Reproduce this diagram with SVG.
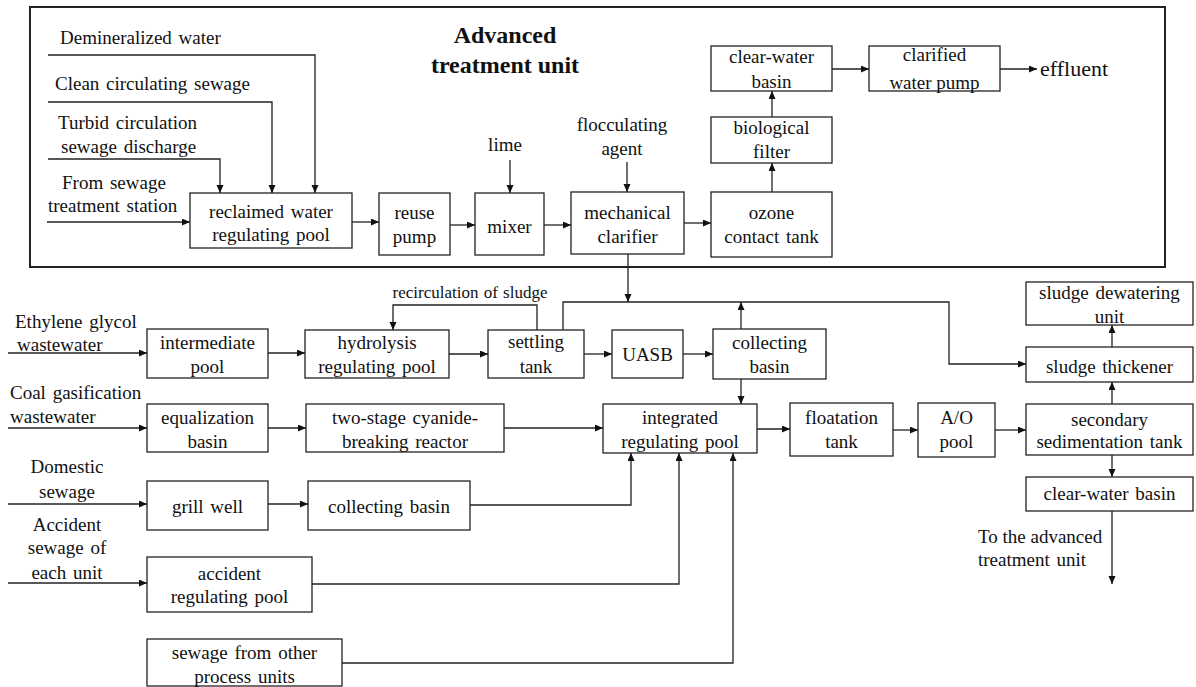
<svg xmlns="http://www.w3.org/2000/svg" width="1196" height="687" viewBox="0 0 1196 687">
<style>
  .bx{fill:#fff;stroke:#222;stroke-width:1.3}
  .t{font-family:'Liberation Serif','DejaVu Serif',serif;font-size:19px;fill:#111;word-spacing:2px}
  .c{text-anchor:middle}
  .ln{fill:none;stroke:#222;stroke-width:1.3}
  .ttl{font-family:'Liberation Serif','DejaVu Serif',serif;font-size:24px;font-weight:bold;fill:#111;text-anchor:middle}
</style>
<defs>
  <marker id="ah" markerUnits="userSpaceOnUse" markerWidth="9" markerHeight="8" refX="8" refY="3.5" orient="auto">
    <path d="M0,0 L8,3.5 L0,7 z" fill="#111"/>
  </marker>
</defs>
<rect width="1196" height="687" fill="#fff"/>
<rect id="frame" x="30" y="7" width="1135" height="260" fill="none" stroke="#222" stroke-width="2"/>
<g id="title"><text class="ttl" x="505" y="43">Advanced</text><text class="ttl" x="505" y="73">treatment unit</text></g>

<g id="labels">
  <text class="t" x="60" y="44">Demineralized water</text>
  <text class="t" x="55" y="90">Clean circulating sewage</text>
  <text class="t" x="58" y="129">Turbid circulation</text>
  <text class="t" x="61" y="153">sewage discharge</text>
  <text class="t" x="62" y="189">From sewage</text>
  <text class="t" x="48" y="212">treatment station</text>
  <text class="t c" x="505" y="151">lime</text>
  <text class="t c" x="622" y="131">flocculating</text>
  <text class="t c" x="622" y="155">agent</text>
  <text class="t" x="1040" y="76" style="font-size:22px">effluent</text>
  <text class="t c" x="470" y="298" style="font-size:17px;word-spacing:1px">recirculation of sludge</text>
  <text class="t" x="15" y="328">Ethylene glycol</text>
  <text class="t" x="17" y="351">wastewater</text>
  <text class="t" x="10" y="399">Coal gasification</text>
  <text class="t" x="10" y="423">wastewater</text>
  <text class="t c" x="67" y="473">Domestic</text>
  <text class="t c" x="67" y="498">sewage</text>
  <text class="t c" x="67" y="531">Accident</text>
  <text class="t c" x="67" y="554">sewage of</text>
  <text class="t c" x="67" y="579">each unit</text>
  <text class="t" x="978" y="543" style="word-spacing:0">To the advanced</text>
  <text class="t" x="978" y="566">treatment unit</text>
</g>

<g id="connectors" class="ln" marker-end="url(#ah)">
  <path d="M48,55 H315 V193"/>
  <path d="M48,102 H272 V193"/>
  <path d="M48,159 H220 V193"/>
  <path d="M47,222 H190"/>
  <path d="M352,222 H379"/>
  <path d="M450,225 H475"/>
  <path d="M510,160 V193"/>
  <path d="M544,225 H571"/>
  <path d="M627,162 V192"/>
  <path d="M684,223 H711"/>
  <path d="M772,192 V163"/>
  <path d="M772,117 V91"/>
  <path d="M832,69 H869"/>
  <path d="M1000,69 H1037"/>
  <path d="M628,254 V302"/>
  <path d="M8,353 H147"/>
  <path d="M268,353 H305"/>
  <path d="M449,354 H488"/>
  <path d="M584,354 H612"/>
  <path d="M683,354 H713"/>
  <path d="M537,330 V305 H393 V330"/>
  <path d="M563,330 V302 H949 V364 H1026"/>
  <path d="M741,329 V302"/>
  <path d="M741,379 V404"/>
  <path d="M8,428 H147"/>
  <path d="M268,428 H306"/>
  <path d="M504,428 H603"/>
  <path d="M757,429 H790"/>
  <path d="M893,430 H918"/>
  <path d="M995,430 H1026"/>
  <path d="M1112,404 V382"/>
  <path d="M1112,347 V325"/>
  <path d="M1112,455 V477"/>
  <path d="M1112,511 V584"/>
  <path d="M8,504 H147"/>
  <path d="M268,504 H308"/>
  <path d="M470,505 H631 V453"/>
  <path d="M8,583 H147"/>
  <path d="M312,584 H679 V453"/>
  <path d="M342,663 H733 V453"/>
</g>

<g id="n-reclaimed"><rect class="bx" x="190" y="193" width="162" height="55"/><text class="t c" x="271" y="218">reclaimed water</text><text class="t c" x="271" y="241">regulating pool</text></g>
<g id="n-reuse"><rect class="bx" x="379" y="193" width="71" height="62"/><text class="t c" x="414.5" y="219">reuse</text><text class="t c" x="414.5" y="243">pump</text></g>
<g id="n-mixer"><rect class="bx" x="475" y="193" width="69" height="62"/><text class="t c" x="509.5" y="233">mixer</text></g>
<g id="n-clarifier"><rect class="bx" x="571" y="192" width="113" height="62"/><text class="t c" x="627.5" y="219">mechanical</text><text class="t c" x="627.5" y="243">clarifier</text></g>
<g id="n-ozone"><rect class="bx" x="711" y="192" width="121" height="65"/><text class="t c" x="771.5" y="219">ozone</text><text class="t c" x="771.5" y="243">contact tank</text></g>
<g id="n-biofilter"><rect class="bx" x="711" y="117" width="121" height="46"/><text class="t c" x="771.5" y="134">biological</text><text class="t c" x="771.5" y="158">filter</text></g>
<g id="n-clearwater1"><rect class="bx" x="711" y="46" width="121" height="45"/><text class="t c" x="771.5" y="63">clear-water</text><text class="t c" x="771.5" y="88">basin</text></g>
<g id="n-clarifiedpump"><rect class="bx" x="869" y="46" width="131" height="45"/><text class="t c" x="934.5" y="61">clarified</text><text class="t c" x="934.5" y="89" style="word-spacing:0">water pump</text></g>

<g id="n-intermediate"><rect class="bx" x="147" y="329" width="121" height="49"/><text class="t c" x="207.5" y="349">intermediate</text><text class="t c" x="207.5" y="373">pool</text></g>
<g id="n-hydrolysis"><rect class="bx" x="305" y="330" width="144" height="48"/><text class="t c" x="377" y="349">hydrolysis</text><text class="t c" x="377" y="373">regulating pool</text></g>
<g id="n-settling"><rect class="bx" x="488" y="330" width="96" height="48"/><text class="t c" x="536" y="348">settling</text><text class="t c" x="536" y="373">tank</text></g>
<g id="n-uasb"><rect class="bx" x="612" y="330" width="71" height="48"/><text class="t c" x="647.5" y="361">UASB</text></g>
<g id="n-collecting1"><rect class="bx" x="713" y="329" width="113" height="50"/><text class="t c" x="769.5" y="349">collecting</text><text class="t c" x="769.5" y="373">basin</text></g>
<g id="n-equalization"><rect class="bx" x="147" y="404" width="121" height="48"/><text class="t c" x="207.5" y="424">equalization</text><text class="t c" x="207.5" y="448">basin</text></g>
<g id="n-twostage"><rect class="bx" x="306" y="404" width="198" height="48"/><text class="t c" x="405" y="424">two-stage cyanide-</text><text class="t c" x="405" y="448">breaking reactor</text></g>
<g id="n-integrated"><rect class="bx" x="603" y="404" width="154" height="49"/><text class="t c" x="680" y="424">integrated</text><text class="t c" x="680" y="448">regulating pool</text></g>
<g id="n-floatation"><rect class="bx" x="790" y="403" width="103" height="53"/><text class="t c" x="841.5" y="424">floatation</text><text class="t c" x="841.5" y="448">tank</text></g>
<g id="n-ao"><rect class="bx" x="918" y="403" width="77" height="54"/><text class="t c" x="956.5" y="424">A/O</text><text class="t c" x="956.5" y="448">pool</text></g>
<g id="n-dewatering"><rect class="bx" x="1026" y="282" width="167" height="43"/><text class="t c" x="1109.5" y="299">sludge dewatering</text><text class="t c" x="1109.5" y="323">unit</text></g>
<g id="n-thickener"><rect class="bx" x="1026" y="347" width="167" height="35"/><text class="t c" x="1109.5" y="373">sludge thickener</text></g>
<g id="n-secondary"><rect class="bx" x="1026" y="404" width="167" height="51"/><text class="t c" x="1109.5" y="426">secondary</text><text class="t c" x="1109.5" y="448">sedimentation tank</text></g>
<g id="n-clearwater2"><rect class="bx" x="1026" y="477" width="167" height="34"/><text class="t c" x="1109.5" y="500">clear-water basin</text></g>
<g id="n-grill"><rect class="bx" x="147" y="481" width="121" height="49"/><text class="t c" x="207.5" y="513">grill well</text></g>
<g id="n-collecting2"><rect class="bx" x="308" y="481" width="162" height="49"/><text class="t c" x="389" y="513">collecting basin</text></g>
<g id="n-accident"><rect class="bx" x="147" y="557" width="165" height="55"/><text class="t c" x="229.5" y="580">accident</text><text class="t c" x="229.5" y="603">regulating pool</text></g>
<g id="n-other"><rect class="bx" x="147" y="639" width="195" height="47"/><text class="t c" x="244.5" y="659">sewage from other</text><text class="t c" x="244.5" y="683">process units</text></g>
</svg>
